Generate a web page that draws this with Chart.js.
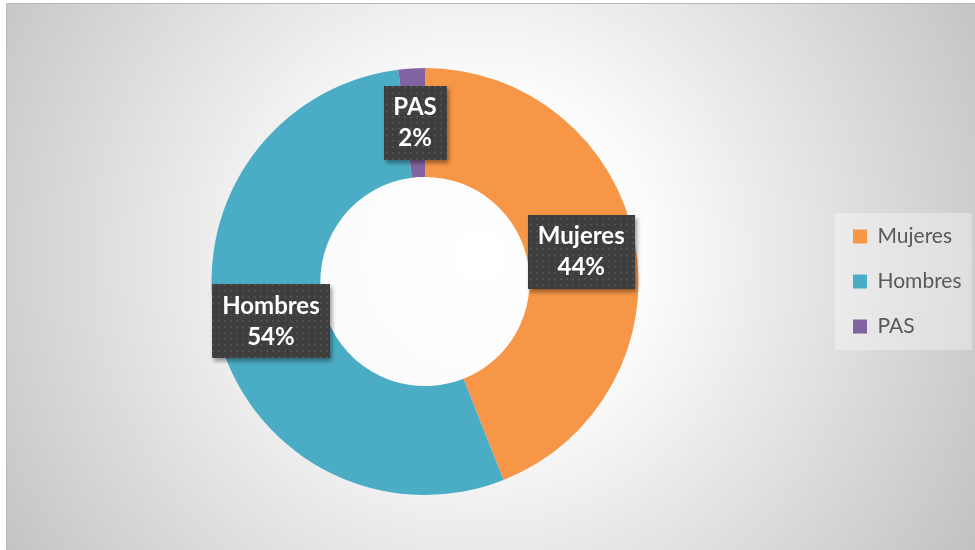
<!DOCTYPE html>
<html>
<head>
<meta charset="utf-8">
<script src="https://cdn.jsdelivr.net/npm/chart.js@4.4.1/dist/chart.umd.min.js"></script>
<style>
  html, body { margin: 0; padding: 0; background: #fff; }
  #wrap { width: 975px; height: 550px; }
</style>
</head>
<body>
<div id="wrap"><canvas id="donutChart" width="975" height="550"></canvas></div>
<script>
const categories = ["Mujeres", "Hombres", "PAS"];
const percentages = [44, 54, 2];
const sliceColors = ["#F79646", "#4BACC6", "#8064A2"];

const W = 975, H = 550;
const legendFont = { family: "Lato", size: 21 };
const legendPad = 24;
const legendBox = 14;

// work out the legend width so the ring sits centred at x=425
const mctx = document.createElement("canvas").getContext("2d");
mctx.font = legendFont.size + "px " + legendFont.family;
const maxText = Math.max(...categories.map((c) => mctx.measureText(c).width));
const legendW = legendPad + legendBox + legendFont.size / 2 + maxText + 10;
const legendLeft = 853 - legendPad;
const padRight = Math.max(0, W - legendLeft - legendW);
const padLeft = 2 * 425 - (W - padRight - legendW);

// dotted fill for the data label boxes
const pc = document.createElement("canvas");
pc.width = 6;
pc.height = 6;
const pctx = pc.getContext("2d");
pctx.fillStyle = "#3e3e3e";
pctx.fillRect(0, 0, 6, 6);
pctx.fillStyle = "#4e4e4e";
pctx.fillRect(2, 2, 2, 2);

const backgroundPlugin = {
  id: "panelBackground",
  beforeDraw(chart) {
    const ctx = chart.ctx;
    ctx.save();
    ctx.fillStyle = "#ffffff";
    ctx.fillRect(0, 0, W, H);
    const g = ctx.createRadialGradient(480, 255, 0, 480, 255, 580);
    g.addColorStop(0, "#ffffff");
    g.addColorStop(0.3, "#fbfbfb");
    g.addColorStop(1, "#c1c1c1");
    ctx.fillStyle = g;
    ctx.fillRect(7, 4, W - 7, H - 4);
    ctx.strokeStyle = "#b8b8b8";
    ctx.lineWidth = 1;
    ctx.beginPath();
    ctx.moveTo(6.5, H);
    ctx.lineTo(6.5, 3.5);
    ctx.lineTo(W, 3.5);
    ctx.stroke();

    // legend panel
    const hb = chart.legend.legendHitBoxes;
    if (hb && hb.length) {
      const top = hb[0].top - 13;
      const bottom = hb[hb.length - 1].top + hb[hb.length - 1].height + 13;
      ctx.fillStyle = "rgba(255,255,255,0.35)";
      ctx.fillRect(835, top, 137, bottom - top);
    }
    ctx.restore();
  },
};

const labelPlugin = {
  id: "boxLabels",
  afterDatasetsDraw(chart) {
    const ctx = chart.ctx;
    const meta = chart.getDatasetMeta(0);
    const pattern = ctx.createPattern(pc, "repeat");
    ctx.save();
    ctx.font = "bold 24px Lato";
    ctx.textAlign = "center";
    ctx.textBaseline = "middle";
    meta.data.forEach((arc, i) => {
      const pos = arc.getCenterPoint();
      const lines = [categories[i], percentages[i] + "%"];
      const tw = Math.max(...lines.map((l) => ctx.measureText(l).width));
      const bw = Math.round(tw + 20);
      const bh = 74;
      const x = Math.round(pos.x - bw / 2);
      const y = Math.round(pos.y - bh / 2);
      ctx.save();
      ctx.shadowColor = "rgba(0,0,0,0.4)";
      ctx.shadowBlur = 4;
      ctx.shadowOffsetX = 2;
      ctx.shadowOffsetY = 3;
      ctx.fillStyle = pattern;
      ctx.fillRect(x, y, bw, bh);
      ctx.restore();
      ctx.fillStyle = "#ffffff";
      ctx.fillText(lines[0], pos.x, pos.y - 15);
      ctx.fillText(lines[1], pos.x, pos.y + 16);
    });
    ctx.restore();
  },
};

const donutChartCtx = document.getElementById("donutChart").getContext("2d");

const donutChart = new Chart(donutChartCtx, {
  type: "doughnut",
  data: {
    labels: categories,
    datasets: [
      {
        data: percentages,
        backgroundColor: sliceColors,
        borderWidth: 0,
      },
    ],
  },
  options: {
    responsive: false,
    devicePixelRatio: 1,
    animation: false,
    cutout: "49%",
    layout: {
      padding: { left: padLeft, right: padRight, top: 68, bottom: 55 },
    },
    plugins: {
      legend: {
        position: "right",
        labels: {
          boxWidth: legendBox,
          boxHeight: legendBox,
          padding: legendPad,
          color: "#595959",
          font: legendFont,
        },
      },
      tooltip: { enabled: false },
    },
  },
  plugins: [backgroundPlugin, labelPlugin],
});
</script>
</body>
</html>
